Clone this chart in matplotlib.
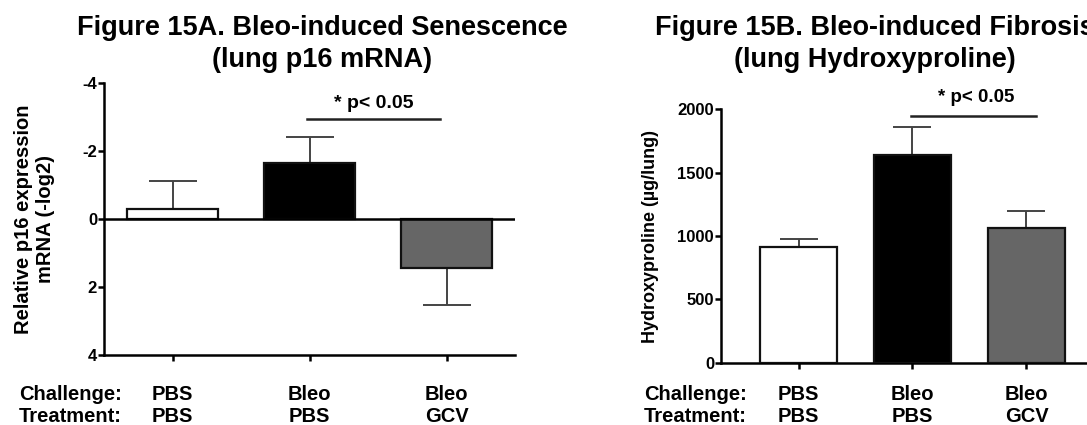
import numpy as np
import matplotlib
matplotlib.use("Agg")
import matplotlib.pyplot as plt

plt.rcParams['font.family'] = ['Liberation Sans', 'DejaVu Sans']
plt.rcParams['font.weight'] = 'bold'
plt.rcParams['axes.unicode_minus'] = False

# groups
challenge = ["PBS", "Bleo", "Bleo"]
treatment = ["PBS", "PBS", "GCV"]
bar_colors = ["white", "black", "#666666"]

# Fig 15A: p16 mRNA (-log2), axis is inverted
p16_mean = [-0.30, -1.64, 1.45]
p16_err = [0.82, 0.78, 1.08]

# Fig 15B: hydroxyproline (ug/lung)
hyp_mean = [910, 1640, 1062]
hyp_err = [65, 222, 138]

sig_text = "* p< 0.05"


def one_sided(mean, err):
    mean = np.array(mean, dtype=float)
    err = np.array(err, dtype=float)
    lower = np.where(mean < 0, err, 0)
    upper = np.where(mean >= 0, err, 0)
    return [lower, upper]


def style_axes(ax):
    for s in ['top', 'right']:
        ax.spines[s].set_visible(False)
    for s in ['left', 'bottom']:
        ax.spines[s].set_linewidth(1.8)
    ax.tick_params(axis='y', length=4.5, width=1.8, labelsize=12, pad=0.5)
    ax.tick_params(axis='x', length=4.5, width=1.8, labelbottom=False)
    for lab in ax.get_yticklabels():
        lab.set_fontweight('bold')


def category_labels(ax, y, x_row):
    tr = ax.get_xaxis_transform()
    for i, (c, t) in enumerate(zip(challenge, treatment)):
        ax.text(i, y, c + "\n" + t, transform=tr, ha='center', va='center',
                fontsize=14.5, fontweight='bold', linespacing=1.2)
    ax.text(x_row, y, "Challenge:\nTreatment:", transform=ax.transAxes,
            ha='left', va='center', fontsize=14.5, fontweight='bold',
            linespacing=1.2, clip_on=False)


fig = plt.figure(figsize=(10.87, 4.25), dpi=100)
x = np.arange(len(challenge))

# ---- left panel
ax1 = fig.add_axes([0.0957, 0.1647, 0.3781, 0.6400])
ax1.bar(x, p16_mean, width=0.67, color=bar_colors, edgecolor='#111111',
        linewidth=1.6, zorder=3)
ax1.errorbar(x, p16_mean, yerr=one_sided(p16_mean, p16_err), fmt='none',
             ecolor='#444444', elinewidth=1.4, capsize=17, capthick=1.4, zorder=2)
ax1.axhline(0, color='black', lw=1.8, zorder=4)
ax1.set_xlim(-0.5, 2.5)
ax1.set_ylim(4, -4)
ax1.set_yticks([-4, -2, 0, 2, 4])
ax1.set_xticks(x)
style_axes(ax1)
ax1.set_ylabel("Relative p16 expression\nmRNA (-log2)", fontsize=14.5,
               fontweight='bold', labelpad=20)
ax1.plot([0.98, 1.95], [-2.94, -2.94], color='#222222', lw=1.8, clip_on=False)
ax1.text(1.47, -3.41, sig_text, ha='center', va='center', fontsize=14,
         fontweight='bold')
category_labels(ax1, -0.186, -0.207)

# ---- right panel
ax2 = fig.add_axes([0.6633, 0.1459, 0.3523, 0.5976])
ax2.bar(x, hyp_mean, width=0.67, color=bar_colors, edgecolor='#111111',
        linewidth=1.6, zorder=3)
ax2.errorbar(x, hyp_mean, yerr=one_sided(hyp_mean, hyp_err), fmt='none',
             ecolor='#444444', elinewidth=1.4, capsize=13.5, capthick=1.4, zorder=2)
ax2.set_xlim(-0.68, 2.68)
ax2.set_ylim(0, 2000)
ax2.set_yticks([0, 500, 1000, 1500, 2000])
ax2.set_xticks(x)
style_axes(ax2)
ax2.set_ylabel("Hydroxyproline (\u00b5g/lung)", fontsize=13, fontweight='bold',
               labelpad=13)
ax2.plot([0.99, 2.08], [1945, 1945], color='#222222', lw=1.8, clip_on=False)
ax2.text(1.56, 2087, sig_text, ha='center', va='center', fontsize=13.5,
         fontweight='bold')
category_labels(ax2, -0.168, -0.201)

# titles
fig.text(322 / 1087, 0.8965, "Figure 15A. Bleo-induced Senescence\n(lung p16 mRNA)",
         ha='center', va='center', fontsize=19.5, fontweight='bold',
         linespacing=1.29)
fig.text(875 / 1087, 0.8965, "Figure 15B. Bleo-induced Fibrosis\n(lung Hydroxyproline)",
         ha='center', va='center', fontsize=19.5, fontweight='bold',
         linespacing=1.29)

fig.savefig("out.png", dpi=100)
